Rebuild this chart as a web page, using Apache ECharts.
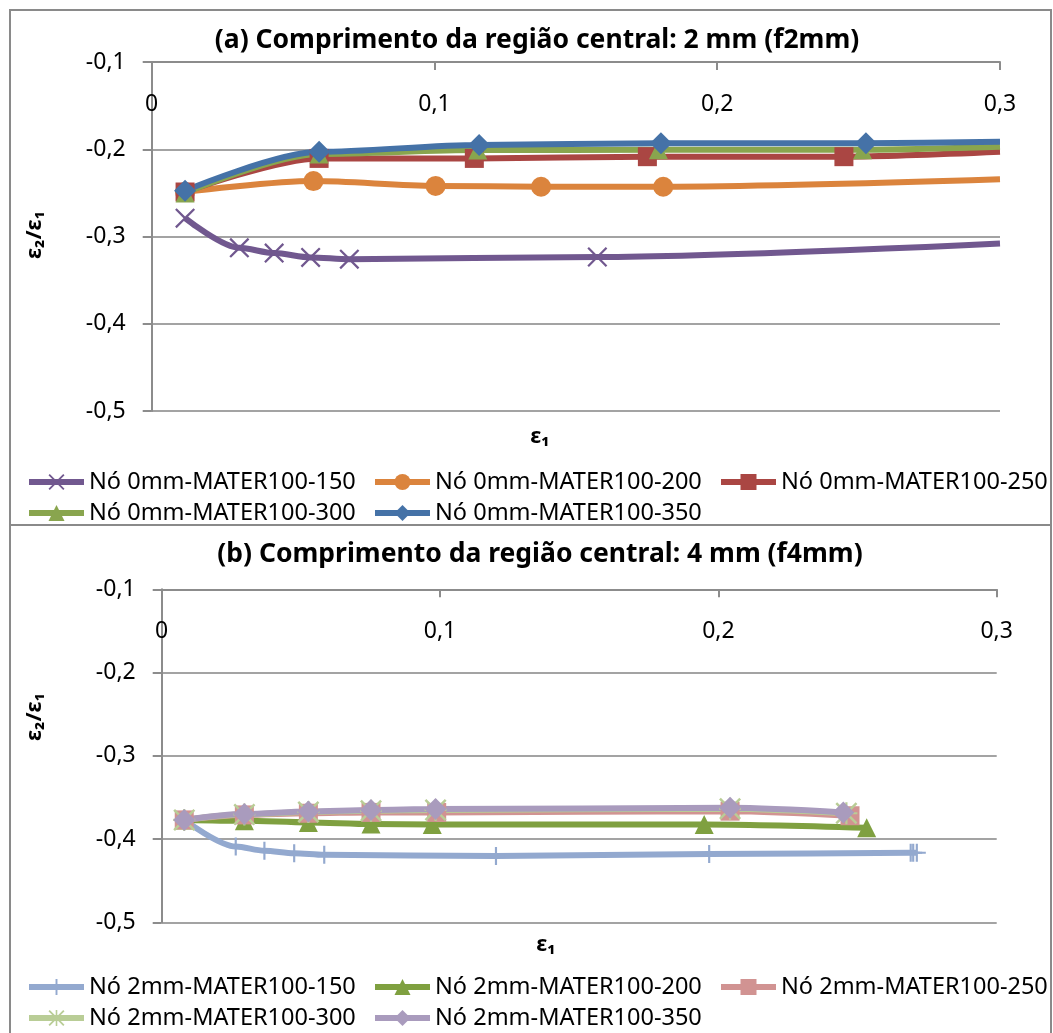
<!DOCTYPE html>
<html>
<head>
<meta charset="utf-8">
<script src="https://cdn.jsdelivr.net/npm/echarts@6/dist/echarts.min.js"></script>
<style>
  html, body { margin: 0; padding: 0; background: #ffffff; }
  #chart { width: 1053px; height: 1033px; }
</style>
</head>
<body>
<div id="chart"></div>
<script>
// ---- axis ticks ----
const xTicks = [0, 0.1, 0.2, 0.3];
const yTicks = [-0.5, -0.4, -0.3, -0.2, -0.1];

// ---- panel (a): f2mm, "Nó 0mm" series ----
const namesA = ['Nó 0mm-MATER100-150', 'Nó 0mm-MATER100-200', 'Nó 0mm-MATER100-250',
                'Nó 0mm-MATER100-300', 'Nó 0mm-MATER100-350'];
const xA150 = [0.0118, 0.0310, 0.0433, 0.0562, 0.0699, 0.1576, 0.3000];
const yA150 = [-0.279, -0.313, -0.319, -0.324, -0.326, -0.3235, -0.308];
const xA200 = [0.0118, 0.0572, 0.1004, 0.1377, 0.1809, 0.3000];
const yA200 = [-0.249, -0.2365, -0.242, -0.243, -0.243, -0.2345];
const xA250 = [0.0118, 0.0592, 0.1141, 0.1753, 0.2448, 0.3000];
const yA250 = [-0.249, -0.2105, -0.2105, -0.2085, -0.2085, -0.203];
const xA300 = [0.0118, 0.0592, 0.1153, 0.1792, 0.2514, 0.3000];
const yA300 = [-0.250, -0.2055, -0.201, -0.2005, -0.2005, -0.197];
const xA350 = [0.0118, 0.0592, 0.1158, 0.1801, 0.2526, 0.3000];
const yA350 = [-0.2475, -0.203, -0.195, -0.193, -0.193, -0.1915];

// ---- panel (b): f4mm, "Nó 2mm" series ----
const namesB = ['Nó 2mm-MATER100-150', 'Nó 2mm-MATER100-200', 'Nó 2mm-MATER100-250',
                'Nó 2mm-MATER100-300', 'Nó 2mm-MATER100-350'];
const xB150 = [0.0081, 0.0266, 0.0369, 0.0476, 0.0584, 0.1201, 0.1967, 0.2691, 0.2700, 0.2713];
const yB150 = [-0.377, -0.409, -0.414, -0.417, -0.419, -0.4205, -0.418, -0.4165, -0.4165, -0.4165];
const xB200 = [0.0081, 0.0297, 0.0527, 0.0752, 0.0972, 0.1949, 0.2533];
const yB200 = [-0.377, -0.378, -0.380, -0.382, -0.3825, -0.3825, -0.3865];
const xB250 = [0.0081, 0.0297, 0.0527, 0.0752, 0.0988, 0.2042, 0.2473];
const yB250 = [-0.377, -0.371, -0.369, -0.368, -0.368, -0.3665, -0.372];
const xB300 = [0.0081, 0.0297, 0.0527, 0.0752, 0.0984, 0.2042, 0.2460];
const yB300 = [-0.377, -0.3705, -0.3675, -0.366, -0.365, -0.3635, -0.369];
const xB350 = [0.0081, 0.0297, 0.0527, 0.0752, 0.0984, 0.2042, 0.2449];
const yB350 = [-0.377, -0.370, -0.367, -0.365, -0.364, -0.3625, -0.368];

const FONT = '"Noto Sans", "DejaVu Sans", sans-serif';
const AXIS_GRAY = '#8c8c8c';
const GRID_GRAY = '#a3a3a3';

// marker shapes drawn as filled outlines
const SYM_X = 'path://M0,1.6L1.6,0L10,8.4L18.4,0L20,1.6L11.6,10L20,18.4L18.4,20L10,11.6L1.6,20L0,18.4L8.4,10Z';
const SYM_PLUS = 'path://M8.8,0H11.2V8.8H20V11.2H11.2V20H8.8V11.2H0V8.8H8.8Z';
const SYM_STAR = 'path://M0,1.6L1.6,0L10,8.4L18.4,0L20,1.6L11.6,10L20,18.4L18.4,20L10,11.6L1.6,20L0,18.4L8.4,10Z M9,0H11V20H9Z M0,9H20V11H0Z';

const fmt = v => String(Math.round(v * 10) / 10).replace('.', ',');

function pairs(xs, ys, openEnd) {
  return xs.map((x, i) => (openEnd && i === xs.length - 1)
    ? { value: [x, ys[i]], symbol: 'none' }
    : [x, ys[i]]);
}

function lineSeries(name, idx, xs, ys, color, symbol, size, openEnd) {
  return {
    name, type: 'line', xAxisIndex: idx, yAxisIndex: idx,
    data: pairs(xs, ys, openEnd),
    smooth: 0.3, smoothMonotone: 'x',
    showAllSymbol: true,
    symbol, symbolSize: size,
    color,
    lineStyle: { width: 6, color },
    itemStyle: { color, borderWidth: 0 },
    emphasis: { disabled: true },
    animation: false
  };
}

function xAxisFor(idx) {
  return {
    type: 'value', gridIndex: idx, position: 'top',
    min: 0, max: 0.3, interval: 0.1,
    axisLine: { show: true, onZero: false, lineStyle: { color: AXIS_GRAY, width: 2 } },
    axisTick: { show: true, inside: true, length: 8, lineStyle: { color: AXIS_GRAY, width: 2 } },
    axisLabel: { inside: true, margin: 31, color: '#000', fontSize: 23, fontFamily: FONT, formatter: fmt },
    splitLine: { show: false }
  };
}

function yAxisFor(idx) {
  return {
    type: 'value', gridIndex: idx,
    min: -0.5, max: -0.1, interval: 0.1,
    axisLine: { show: true, onZero: false, lineStyle: { color: AXIS_GRAY, width: 2 } },
    axisTick: { show: true, length: 9, lineStyle: { color: AXIS_GRAY, width: 2 } },
    axisLabel: { margin: 26, color: '#000', fontSize: 23, fontFamily: FONT, formatter: fmt },
    splitLine: { show: true, lineStyle: { color: GRID_GRAY, width: 2 } }
  };
}

function legendFor(names, top) {
  return {
    data: names, left: 26, top, width: 1045,
    orient: 'horizontal', padding: 0,
    itemWidth: 55, itemHeight: 20, itemGap: 7,
    lineStyle: { width: 6 },
    textStyle: { fontSize: 23.5, fontFamily: FONT, color: '#000', width: 276, overflow: 'none', lineHeight: 20 },
    selectedMode: false
  };
}

function label(text, x, y, size, rotate) {
  return {
    type: 'text', x, y, rotation: rotate ? Math.PI / 2 : 0,
    style: { text, font: 'bold ' + size + 'px ' + FONT, fill: '#000',
             textAlign: 'center', textVerticalAlign: 'middle' }
  };
}

const chart = echarts.init(document.getElementById('chart'), null, { renderer: 'canvas' });

chart.setOption({
  backgroundColor: '#ffffff',
  animation: false,
  grid: [
    { left: 151.7, right: 53, top: 62, height: 349 },
    { left: 161.7, right: 56.3, top: 589.3, height: 333 }
  ],
  xAxis: [xAxisFor(0), xAxisFor(1)],
  yAxis: [yAxisFor(0), yAxisFor(1)],
  legend: [legendFor(namesA, 470), legendFor(namesB, 975)],
  graphic: [
    { type: 'rect', shape: { x: 10, y: 10, width: 1041, height: 515 },
      style: { fill: 'none', stroke: '#8a8a8a', lineWidth: 2 }, silent: true },
    { type: 'rect', shape: { x: 10, y: 525, width: 1041, height: 520 },
      style: { fill: 'none', stroke: '#8a8a8a', lineWidth: 2 }, silent: true },
    label('(a) Comprimento da região central: 2 mm (f2mm)', 537, 40, 26.5),
    label('(b) Comprimento da região central: 4 mm (f4mm)', 540, 554, 26.5),
    label('ε₁', 540, 437, 22),
    label('ε₁', 546, 945, 22),
    label('ε₂/ε₁', 35, 235, 22, true),
    label('ε₂/ε₁', 35, 717, 22, true)
  ],
  series: [
    lineSeries(namesA[0], 0, xA150, yA150, '#71588F', SYM_X, 20, true),
    lineSeries(namesA[1], 0, xA200, yA200, '#DB843D', 'circle', 20, true),
    lineSeries(namesA[2], 0, xA250, yA250, '#AA4643', 'rect', 19, true),
    lineSeries(namesA[3], 0, xA300, yA300, '#89A54E', 'triangle', 19, true),
    lineSeries(namesA[4], 0, xA350, yA350, '#4572A7', 'diamond', 22, true),
    lineSeries(namesB[0], 1, xB150, yB150, '#93A9CF', SYM_PLUS, 18, false),
    lineSeries(namesB[1], 1, xB200, yB200, '#7FA040', 'triangle', 19, false),
    lineSeries(namesB[2], 1, xB250, yB250, '#D19392', 'rect', 19, false),
    lineSeries(namesB[3], 1, xB300, yB300, '#B9CD96', SYM_STAR, 22, false),
    lineSeries(namesB[4], 1, xB350, yB350, '#A99BBD', 'diamond', 22, false)
  ]
});
</script>
</body>
</html>
